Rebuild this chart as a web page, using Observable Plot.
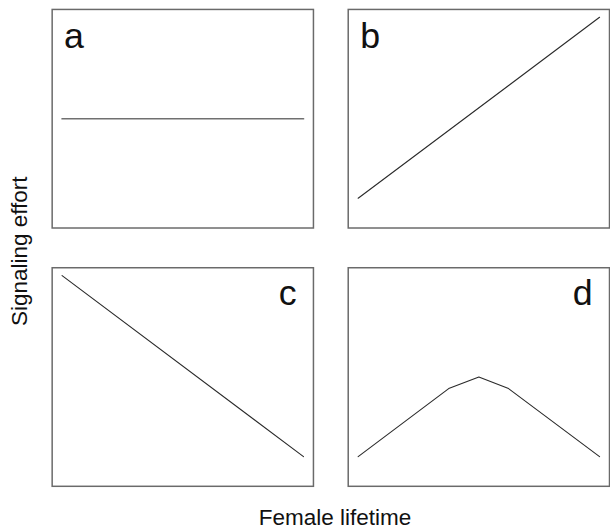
<!DOCTYPE html>
<html>
<head>
<meta charset="utf-8">
<script src="https://cdn.jsdelivr.net/npm/d3@7"></script>
<script src="https://cdn.jsdelivr.net/npm/@observablehq/plot@0.6"></script>
<style>
  html, body { margin: 0; padding: 0; background: #fff; overflow: hidden; }
  #wrap { position: relative; width: 610px; height: 531px; overflow: hidden; font-family: "Liberation Sans", Arial, sans-serif; }
  #chart { position: absolute; left: 0; top: 0; }
  .lab { position: absolute; font-size: 22.5px; line-height: 1; color: #111; white-space: nowrap; text-align: center; }
  #xlab { left: 135px; width: 400px; top: 507px; }
  #ylab { left: -130px; width: 300px; top: 240px; transform: rotate(-90deg); }
</style>
</head>
<body>
<div id="wrap">
  <div id="chart"></div>
  <div class="lab" id="xlab">Female lifetime</div>
  <div class="lab" id="ylab">Signaling effort</div>
</div>
<script>
// Panels
const panels = ["a", "b", "c", "d"];
const panelCols = ["left", "right", "left", "right"];
const panelRows = ["top", "top", "bottom", "bottom"];
const labelSide = ["left", "left", "right", "right"];

// Female lifetime (x) and signaling effort (y), relative units
const lifetimeA = [0, 1];
const effortA = [0.5, 0.5];
const lifetimeB = [0, 1];
const effortB = [0.136, 0.964];
const lifetimeC = [0, 1];
const effortC = [0.964, 0.136];
const lifetimeD = [0, 0.375, 0.5, 0.623, 1];
const effortD = [0.136, 0.447, 0.5, 0.447, 0.136];

const lifetimes = [lifetimeA, lifetimeB, lifetimeC, lifetimeD];
const efforts = [effortA, effortB, effortC, effortD];

const lineData = panels.flatMap((p, i) =>
  lifetimes[i].map((x, j) => ({panel: p, col: panelCols[i], row: panelRows[i], x, y: efforts[i][j]}))
);
const labelData = panels.map((p, i) => ({panel: p, col: panelCols[i], row: panelRows[i], side: labelSide[i]}));

const plot = Plot.plot({
  width: 614,
  height: 500,
  marginLeft: 52,
  marginRight: 1,
  marginTop: 9,
  marginBottom: 11,
  style: {fontFamily: "'Liberation Sans', Arial, sans-serif", background: "white"},
  fx: {domain: ["left", "right"], axis: null, paddingInner: 35 / 298, paddingOuter: 0},
  fy: {domain: ["top", "bottom"], axis: null, paddingInner: 40 / 260, paddingOuter: 0},
  x: {domain: [0, 1], inset: 10, axis: null},
  y: {domain: [0, 1], axis: null},
  marks: [
    Plot.frame({stroke: "#6a6a6a", strokeWidth: 1.5}),
    Plot.line(lineData.filter(d => d.panel === "a"), {x: "x", y: "y", fx: "col", fy: "row", stroke: "#707070", strokeWidth: 1.7}),
    Plot.line(lineData.filter(d => d.panel !== "a"), {x: "x", y: "y", z: "panel", fx: "col", fy: "row", stroke: "#2a2a2a", strokeWidth: 1.1}),
    Plot.text(labelData.filter(d => d.side === "left"), {
      fx: "col", fy: "row", text: "panel", frameAnchor: "top-left", textAnchor: "start",
      lineAnchor: "bottom", dx: 12, dy: 39, fontSize: 36, fill: "#111"
    }),
    Plot.text(labelData.filter(d => d.side === "right"), {
      fx: "col", fy: "row", text: "panel", frameAnchor: "top-right", textAnchor: "end",
      lineAnchor: "bottom", dx: -17, dy: 37.5, fontSize: 36, fill: "#111"
    })
  ]
});
document.getElementById("chart").appendChild(plot);
</script>
</body>
</html>
